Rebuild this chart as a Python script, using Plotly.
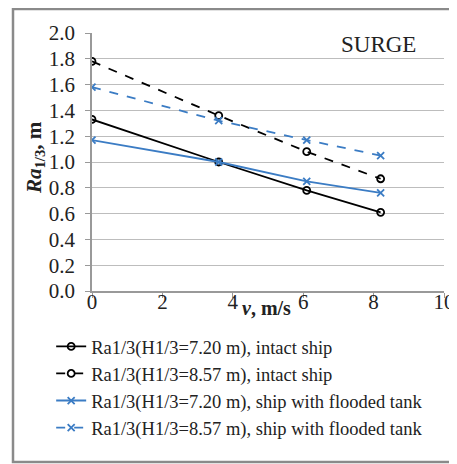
import plotly.graph_objects as go

speed = [0, 3.6, 6.1, 8.2]
intact_720 = [1.33, 1.00, 0.78, 0.61]
intact_857 = [1.78, 1.36, 1.08, 0.87]
flooded_720 = [1.17, 1.00, 0.85, 0.76]
flooded_857 = [1.58, 1.32, 1.17, 1.05]

names = [
    "Ra1/3(H1/3=7.20 m), intact ship",
    "Ra1/3(H1/3=8.57 m), intact ship",
    "Ra1/3(H1/3=7.20 m), ship with flooded tank",
    "Ra1/3(H1/3=8.57 m), ship with flooded tank",
]
series = [intact_720, intact_857, flooded_720, flooded_857]

BLUE = "#3b7cc4"
styles = [
    dict(color="#000000", dash="solid", symbol="circle-open"),
    dict(color="#000000", dash="dash", symbol="circle-open"),
    dict(color=BLUE, dash="solid", symbol="x-thin-open"),
    dict(color=BLUE, dash="dash", symbol="x-thin-open"),
]

SERIF = "Liberation Serif"
# page has an 8px body margin; plot area in page pixels: x 92..444, y 33..291
OFF = 8
PW, PH = 352, 258


def px(x):
    return (x - 92) / PW


def py(y):
    return (291 - y) / PH


fig = go.Figure()
for i, (name, vals, st) in enumerate(zip(names, series, styles)):
    fig.add_trace(go.Scatter(
        x=speed, y=vals, name=name, mode="lines+markers",
        legendgroup=f"g{i}",
        line=dict(color=st["color"], width=1.8, dash=st["dash"]),
        marker=dict(symbol=st["symbol"], size=7, color=st["color"],
                    line=dict(color=st["color"], width=1.8)),
    ))

fig.update_layout(
    width=457 - OFF, height=464 - OFF,
    margin=dict(l=92 - OFF, r=13, t=33 - OFF, b=173, autoexpand=False),
    paper_bgcolor="white", plot_bgcolor="white",
    font=dict(family=SERIF, color="#222222", size=18),
    showlegend=True,
    legend=dict(
        x=-0.116, y=-0.143, xanchor="left", yanchor="top",
        font=dict(family=SERIF, size=18.5, color="#222222"),
        tracegroupgap=0, bgcolor="rgba(0,0,0,0)",
    ),
    xaxis=dict(
        range=[0, 10], tickvals=[0, 2, 4, 6, 8, 10], showgrid=False,
        showline=True, linecolor="#999999", linewidth=1.5,
        ticks="outside", ticklen=5, tickcolor="#999999",
        ticklabelstandoff=-14,
        tickfont=dict(family=SERIF, size=21, color="#222222"),
        zeroline=False, fixedrange=True,
    ),
    yaxis=dict(
        range=[0, 2.0], dtick=0.2, tickformat=".1f",
        showgrid=True, gridcolor="#bdbdbd", gridwidth=1.2,
        showline=True, linecolor="#999999", linewidth=1.5,
        ticks="outside", ticklen=5, tickcolor="#999999",
        ticklabelstandoff=6,
        tickfont=dict(family=SERIF, size=21, color="#222222"),
        zeroline=False, fixedrange=True,
    ),
    annotations=[
        dict(text="SURGE", xref="paper", yref="paper", x=px(378), y=py(45),
             xanchor="center", yanchor="middle",
             showarrow=False, font=dict(family=SERIF, size=23, color="#222222")),
        dict(text="<b><i>v</i>, m/s</b>", xref="paper", yref="paper",
             x=px(266), y=py(308), xanchor="center", yanchor="middle", showarrow=False,
             font=dict(family=SERIF, size=20, color="#222222")),
        dict(text="<b><i>Ra</i><sub>1/3</sub>, m</b>", xref="paper", yref="paper",
             x=px(35), y=py(158), xanchor="center", yanchor="middle",
             showarrow=False, textangle=-90,
             font=dict(family=SERIF, size=21, color="#222222")),
    ],
    shapes=[
        dict(type="rect", xref="paper", yref="paper",
             x0=px(13), x1=px(470), y0=py(462), y1=py(9),
             line=dict(color="#8a8a8a", width=2.5), layer="below"),
    ],
)

fig.write_html("out.html")
